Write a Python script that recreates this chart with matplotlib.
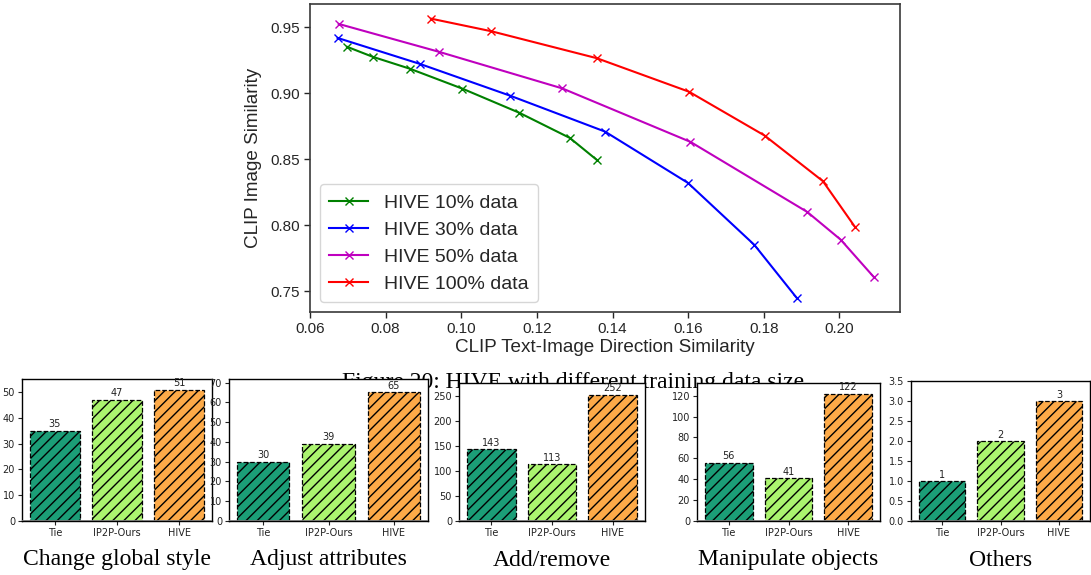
import matplotlib
matplotlib.use("Agg")
import matplotlib.pyplot as plt
from matplotlib.ticker import MultipleLocator, FormatStrFormatter

# ---------------- data ----------------
x10 = [0.0698, 0.0766, 0.0864, 0.1003, 0.1153, 0.1287, 0.1359]
y10 = [0.9352, 0.9276, 0.9186, 0.9035, 0.8853, 0.8662, 0.8494]
x30 = [0.0673, 0.0890, 0.1129, 0.1380, 0.1599, 0.1775, 0.1888]
y30 = [0.9419, 0.9223, 0.8982, 0.8710, 0.8322, 0.7852, 0.7447]
x50 = [0.0676, 0.0941, 0.1267, 0.1606, 0.1915, 0.2003, 0.2090]
y50 = [0.9525, 0.9314, 0.9037, 0.8632, 0.8101, 0.7892, 0.7611]
x100 = [0.0920, 0.1079, 0.1358, 0.1602, 0.1802, 0.1956, 0.2041]
y100 = [0.9565, 0.9470, 0.9266, 0.9012, 0.8680, 0.8335, 0.7988]
series_labels = ["HIVE 10% data", "HIVE 30% data", "HIVE 50% data", "HIVE 100% data"]
x_ticks = [0.06, 0.08, 0.10, 0.12, 0.14, 0.16, 0.18, 0.20]
y_ticks = [0.75, 0.80, 0.85, 0.90, 0.95]

bar_categories = ["Tie", "IP2P-Ours", "HIVE"]
change_global_style = [35, 47, 51]
adjust_attributes = [30, 39, 65]
add_remove = [143, 113, 252]
manipulate_objects = [56, 41, 122]
others = [1, 2, 3]
panel_titles = ["Change global style", "Adjust attributes", "Add/remove",
                "Manipulate objects", "Others"]
caption = "Figure 20: HIVE with different training data size"

# ---------------- figure ----------------
W, H = 1091, 575
fig = plt.figure(figsize=(W / 100, H / 100), dpi=100)
fig.patch.set_facecolor("white")

def px_axes(left, top, right, bottom, **kw):
    return fig.add_axes([left / W, 1 - bottom / H, (right - left) / W, (bottom - top) / H], **kw)

# ---- top line chart ----
dark = "#262626"
ax = px_axes(310, 4, 900, 312)
colors = ["green", "blue", "m", "red"]
for xs, ys, c, lab in zip([x10, x30, x50, x100], [y10, y30, y50, y100], colors, series_labels):
    ax.plot(xs, ys, color=c, marker="x", markersize=6, lw=1.5, label=lab)
ax.set_xlim(0.06, 0.216)
ax.set_ylim(0.7344, 0.9676)
ax.set_xticks(x_ticks)
ax.set_yticks(y_ticks)
ax.set_xticklabels([f"{v:.2f}" for v in x_ticks])
ax.set_yticklabels([f"{v:.2f}" for v in y_ticks])
sans = "Liberation Sans"
for lbl in ax.get_xticklabels() + ax.get_yticklabels():
    lbl.set_fontfamily(sans)
    lbl.set_fontsize(11)
    lbl.set_color(dark)
ax.tick_params(colors=dark, length=4, width=1)
for s in ax.spines.values():
    s.set_color("#3a3a3a")
    s.set_linewidth(1.2)
ax.set_xlabel("CLIP Text-Image Direction Similarity", fontsize=13.6, family=sans, color=dark, labelpad=2)
ax.set_ylabel("CLIP Image Similarity", fontsize=13.6, family=sans, color=dark, labelpad=6)
leg = ax.legend(loc="lower left", prop={"family": sans, "size": 14}, frameon=True,
                borderpad=0.5, labelspacing=0.48, handlelength=2.0, handletextpad=0.8)
leg.get_frame().set_edgecolor("#cccccc")
for t in leg.get_texts():
    t.set_color(dark)

# ---- caption (partly hidden behind the bar charts, as in the reference) ----
fig.text(573 / W, 1 - 388 / H, caption, family="Liberation Serif", fontsize=17,
         ha="center", va="baseline", color="black", zorder=-1)

# ---- bar charts ----
bar_colors = ["#1b9e77", "#abf46f", "#fdaa48"]
panels = [change_global_style, adjust_attributes, add_remove, manipulate_objects, others]
boxes = [(22, 379, 212, 521), (229, 379, 428, 521), (459, 383, 645, 521),
         (697, 383, 880, 521), (911, 381, 1090, 521)]
ylims = [55.1, 71.8, 275.5, 132.2, 3.5]
steps = [10, 10, 50, 20, 0.5]
plt.rcParams["hatch.linewidth"] = 1.0
for vals, box, ymax, step, title in zip(panels, boxes, ylims, steps, panel_titles):
    bx = px_axes(*box)
    bx.set_facecolor("white")
    bx.set_zorder(1)
    bars = bx.bar(bar_categories, vals, width=0.8, color=bar_colors, edgecolor="black",
                  linestyle="--", linewidth=0.9, hatch="///", zorder=2)
    bx.bar_label(bars, labels=[str(v) for v in vals], fontsize=7, padding=1, color="#222222")
    bx.set_ylim(0, ymax)
    bx.set_xlim(-0.53, 2.53)
    bx.yaxis.set_major_locator(MultipleLocator(step))
    if step < 1:
        bx.yaxis.set_major_formatter(FormatStrFormatter("%.1f"))
    bx.axhline(0, color="#777777", lw=2, zorder=3)
    bx.tick_params(labelsize=7, length=3, width=0.8, pad=2, colors="#222222")
    for s in bx.spines.values():
        s.set_linewidth(1.0)
        s.set_color("black")
    cx = (box[0] + box[2]) / 2
    fig.text(cx / W, 1 - 560 / H, title, family="Liberation Serif", fontsize=17,
             ha="center", va="center", color="black")

fig.savefig("out.png", dpi=100)
